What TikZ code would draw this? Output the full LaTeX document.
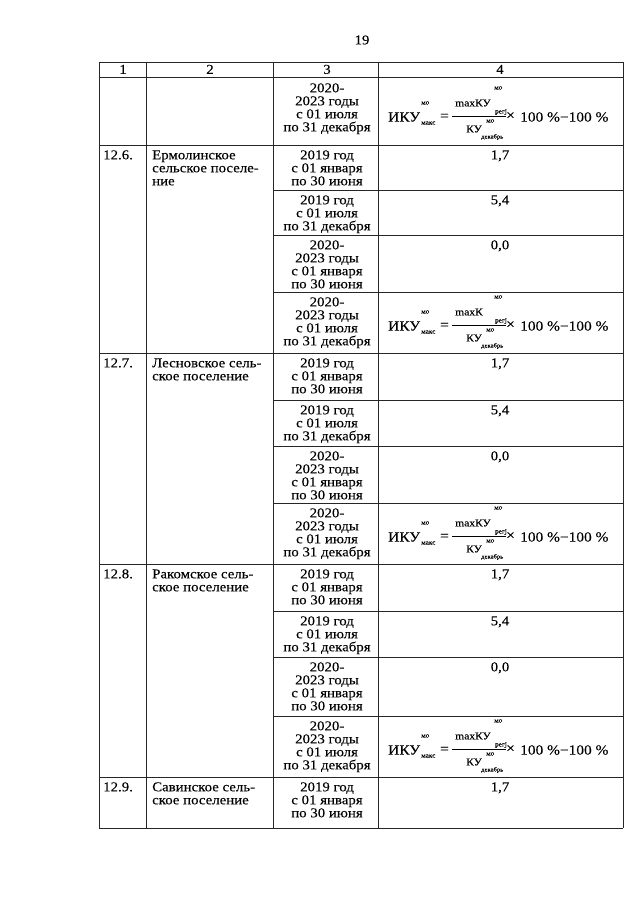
\documentclass[tikz,border=0pt]{standalone}
\usepackage{fontspec}
\setmainfont[FakeStretch=1.1,FakeBold=0.12]{Liberation Serif}
\newcommand{\fsmain}{\fontsize{13.5}{13}\selectfont}
\newcommand{\ikuf}[3]{%
  \node[fmid] (#1ik) at (388,#2+1) {ИКУ};
  \node[fsup] (#1ika) at (421,#2-13) {мо};
  \node[fsup] (#1ikb) at (421,#2+7) {макс};
  \node[fmid] (#1eq) at (440,#2+1) {=};
  \node[fnum] (#1num) at (455,#2-13) {#3};
  \node[fsup] (#1nsup) at (494,#2-28) {мо};
  \node[fsup] (#1nsub) at (495,#2-4) {регj};
  \draw[fbar] (452,#2) -- (506,#2);
  \node[fnum] (#1den) at (466,#2+13) {КУ};
  \node[fsup] (#1dsup) at (486,#2+5) {мо};
  \node[fsub] (#1dsub) at (481,#2+21) {декабрь};
  \node[fmid] (#1x) at (506,#2) {×};
  \node[fmid] (#1pc) at (520,#2+1) {100 \%−100 \%};
}
\newcommand{\ctext}[3]{\node[cell] (#1) at (327,#2+5) {\strut #3};}
\newcommand{\dtext}[3]{\node[cell] (#1) at (500,#2+5) {\strut #3};}
\begin{document}
\begin{tikzpicture}[x=1pt,y=-1pt,
  grid/.style={line width=0.8pt, black!85},
  cell/.style={inner sep=0, anchor=north, align=center, font=\fsmain},
  lcell/.style={inner sep=0, anchor=north west, align=left, font=\fsmain},
  fmid/.style={inner sep=0, anchor=west, font=\fontsize{14}{14}\selectfont},
  fnum/.style={inner sep=0, anchor=west, font=\fontsize{10.5}{11}\selectfont},
  fsup/.style={inner sep=0, anchor=west, font=\fontsize{6.5}{7}\selectfont},
  fsub/.style={inner sep=0, anchor=west, font=\fontsize{6}{6}\selectfont},
  fbar/.style={line width=0.6pt}]
\fill[white] (0,0) rectangle (640,905);
\useasboundingbox (0,0) rectangle (640,905);
% page number
\node[inner sep=0, font=\fsmain] (pg) at (362,40) {19};
% grid
\foreach \y in {62,77,145,353,564,777,828} \draw[grid] (99,\y) -- (623,\y);
\foreach \y in {190,235,292,400,446,503,611,657,716} \draw[grid] (273,\y) -- (623,\y);
\foreach \x in {99,146,273,378,623} \draw[grid] (\x,62) -- (\x,828);
% header
\node[cell] (h1) at (123,64.5) {\strut 1};
\node[cell] (h2) at (210,64.5) {\strut 2};
\node[cell] (h3) at (327,64.5) {\strut 3};
\node[cell] (h4) at (500,64.5) {\strut 4};
% first row
\ctext{c0}{78}{2020-\\2023 годы\\с 01 июля\\по 31 декабря}
\ikuf{f0}{116}{maxКУ}
% 12.6
\node[lcell] (n6) at (103,150) {\strut 12.6.};
\node[lcell] (t6) at (152,150) {\strut Ермолинское\\сельское поселе-\\ние};
\ctext{c61}{145}{2019 год\\с 01 января\\по 30 июня}
\dtext{d61}{145}{1,7}
\ctext{c62}{190}{2019 год\\с 01 июля\\по 31 декабря}
\dtext{d62}{190}{5,4}
\ctext{c63}{235}{2020-\\2023 годы\\с 01 января\\по 30 июня}
\dtext{d63}{235}{0,0}
\ctext{c64}{292}{2020-\\2023 годы\\с 01 июля\\по 31 декабря}
\ikuf{f6}{325}{maxК}
% 12.7
\node[lcell] (n7) at (103,358) {\strut 12.7.};
\node[lcell] (t7) at (152,358) {\strut Лесновское сель-\\ское поселение};
\ctext{c71}{353}{2019 год\\с 01 января\\по 30 июня}
\dtext{d71}{353}{1,7}
\ctext{c72}{400}{2019 год\\с 01 июля\\по 31 декабря}
\dtext{d72}{400}{5,4}
\ctext{c73}{446}{2020-\\2023 годы\\с 01 января\\по 30 июня}
\dtext{d73}{446}{0,0}
\ctext{c74}{503}{2020-\\2023 годы\\с 01 июля\\по 31 декабря}
\ikuf{f7}{536}{maxКУ}
% 12.8
\node[lcell] (n8) at (103,569) {\strut 12.8.};
\node[lcell] (t8) at (152,569) {\strut Ракомское сель-\\ское поселение};
\ctext{c81}{564}{2019 год\\с 01 января\\по 30 июня}
\dtext{d81}{564}{1,7}
\ctext{c82}{611}{2019 год\\с 01 июля\\по 31 декабря}
\dtext{d82}{611}{5,4}
\ctext{c83}{657}{2020-\\2023 годы\\с 01 января\\по 30 июня}
\dtext{d83}{657}{0,0}
\ctext{c84}{716}{2020-\\2023 годы\\с 01 июля\\по 31 декабря}
\ikuf{f8}{749}{maxКУ}
% 12.9
\node[lcell] (n9) at (103,782) {\strut 12.9.};
\node[lcell] (t9) at (152,782) {\strut Савинское сель-\\ское поселение};
\ctext{c91}{777}{2019 год\\с 01 января\\по 30 июня}
\dtext{d91}{777}{1,7}
\end{tikzpicture}
\end{document}
